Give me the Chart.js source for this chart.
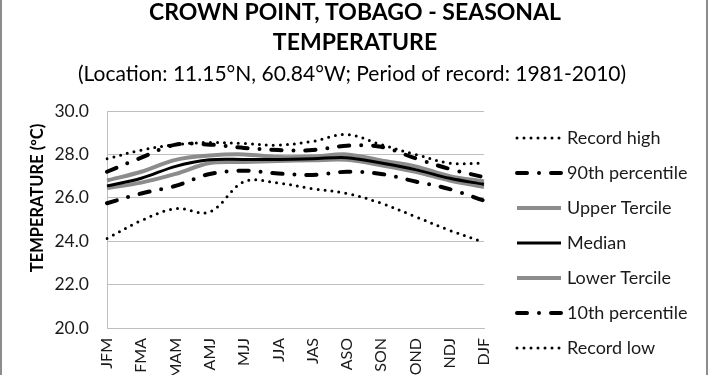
<!DOCTYPE html>
<html>
<head>
<meta charset="utf-8">
<script src="https://cdn.jsdelivr.net/npm/chart.js@4.4.1/dist/chart.umd.min.js"></script>
<style>
  html, body { margin: 0; padding: 0; background: #fff; }
  #wrap { width: 710px; height: 375px; position: relative; }
</style>
</head>
<body>
<div id="wrap"><canvas id="js-chart-seasonal-temp"></canvas></div>
<script>
// Seasons (3-month running periods)
const seasons = ['JFM', 'FMA', 'MAM', 'AMJ', 'MJJ', 'JJA', 'JAS', 'ASO', 'SON', 'OND', 'NDJ', 'DJF'];

// Temperatures (°C)
const recordHigh   = [27.8, 28.2, 28.45, 28.55, 28.5, 28.43, 28.6, 28.92, 28.45, 28.0, 27.6, 27.6];
const pct90        = [27.2, 27.85, 28.45, 28.45, 28.3, 28.2, 28.2, 28.4, 28.35, 27.82, 27.33, 26.95];
const upperTercile = [26.8, 27.2, 27.75, 27.95, 28.0, 27.88, 27.9, 28.0, 27.72, 27.45, 27.0, 26.75];
const median       = [26.55, 26.9, 27.45, 27.75, 27.77, 27.77, 27.8, 27.85, 27.6, 27.3, 26.9, 26.62];
const lowerTercile = [26.45, 26.7, 27.1, 27.6, 27.65, 27.7, 27.73, 27.75, 27.5, 27.2, 26.8, 26.5];
const pct10        = [25.75, 26.2, 26.55, 27.1, 27.25, 27.12, 27.05, 27.2, 27.1, 26.75, 26.4, 25.87];
const recordLow    = [24.13, 24.95, 25.5, 25.35, 26.75, 26.68, 26.42, 26.2, 25.75, 25.13, 24.5, 23.95];

// Y axis
const yMin = 20, yMax = 30, yStep = 2;

const FONT = 'Lato, "Open Sans", sans-serif';
const dotted = [0, 7];
const dashDot = [10, 12, 0, 12];

// Background, frame, titles, y axis title and legend
const decorPlugin = {
  id: 'decor',
  beforeDraw(chart) {
    const ctx = chart.ctx;
    ctx.save();
    ctx.fillStyle = '#fff';
    ctx.fillRect(0, 0, chart.width, chart.height);
    ctx.restore();
  },
  afterDraw(chart) {
    const ctx = chart.ctx;
    ctx.save();

    // outer frame (left / right edges)
    ctx.fillStyle = '#8c8c8c';
    ctx.fillRect(0, 0, 2, chart.height);
    ctx.fillRect(706, 0, 2, chart.height);

    // titles
    ctx.fillStyle = '#000';
    ctx.textAlign = 'center';
    ctx.textBaseline = 'middle';
    ctx.font = 'bold 23px ' + FONT;
    ctx.fillText('CROWN POINT, TOBAGO - SEASONAL', 355, 13);
    ctx.fillText('TEMPERATURE', 355, 43);
    ctx.font = '21px ' + FONT;
    ctx.fillText('(Location: 11.15°N, 60.84°W; Period of record: 1981-2010)', 352, 74);

    // y axis title
    ctx.save();
    ctx.translate(38, 198);
    ctx.rotate(-Math.PI / 2);
    ctx.font = 'bold 16.5px ' + FONT;
    ctx.fillText('TEMPERATURE (ºC)', 0, 0);
    ctx.restore();

    // legend
    chart.data.datasets.forEach((ds, i) => {
      const y = 138 + 35 * i;
      ctx.save();
      ctx.strokeStyle = ds.borderColor;
      ctx.lineWidth = ds.borderWidth;
      ctx.lineCap = ds.borderCapStyle || 'butt';
      ctx.setLineDash(ds.borderDash || []);
      ctx.beginPath();
      ctx.moveTo(517, y);
      ctx.lineTo(561, y);
      ctx.stroke();
      ctx.restore();
      ctx.fillStyle = '#1a1a1a';
      ctx.textAlign = 'left';
      ctx.font = '18px ' + FONT;
      ctx.fillText(ds.label, 567, y);
    });
    ctx.restore();
  }
};

let chartCon = document.getElementById('js-chart-seasonal-temp');

let chartData = {
  labels: seasons,
  datasets: [
    { label: 'Record high', data: recordHigh, borderColor: '#000', borderWidth: 3, borderDash: dotted, borderCapStyle: 'round', order: 2 },
    { label: '90th percentile', data: pct90, borderColor: '#000', borderWidth: 4, borderDash: dashDot, borderCapStyle: 'round', order: 2 },
    { label: 'Upper Tercile', data: upperTercile, borderColor: '#8c8c8c', borderWidth: 4, order: 1 },
    { label: 'Median', data: median, borderColor: '#000', borderWidth: 3, order: 0 },
    { label: 'Lower Tercile', data: lowerTercile, borderColor: '#8c8c8c', borderWidth: 4, order: 1 },
    { label: '10th percentile', data: pct10, borderColor: '#000', borderWidth: 4, borderDash: dashDot, borderCapStyle: 'round', order: 2 },
    { label: 'Record low', data: recordLow, borderColor: '#000', borderWidth: 3, borderDash: dotted, borderCapStyle: 'round', order: 2 }
  ]
};

new Chart(chartCon, {
  type: 'line',
  data: chartData,
  plugins: [decorPlugin],
  options: {
    responsive: true,
    maintainAspectRatio: false,
    animation: false,
    devicePixelRatio: 1,
    tension: .35,
    elements: { point: { radius: 0, hoverRadius: 0 } },
    layout: { padding: { top: 111, right: 226, bottom: 0, left: 0 } },
    scales: {
      x: {
        grid: { display: false, drawTicks: false },
        border: { display: true, color: '#bfbfbf' },
        ticks: {
          color: '#1a1a1a',
          font: { family: FONT, size: 16 },
          minRotation: 90,
          maxRotation: 90,
          padding: 10,
          autoSkip: false
        },
        afterFit(scale) { scale.height = 47; }
      },
      y: {
        min: yMin,
        max: yMax,
        grid: { color: '#bfbfbf', drawTicks: false },
        border: { display: true, color: '#bfbfbf' },
        ticks: {
          stepSize: yStep,
          color: '#1a1a1a',
          font: { family: FONT, size: 17.5 },
          padding: 18,
          callback: v => v.toFixed(1)
        },
        afterFit(scale) { scale.width = 107; }
      }
    },
    plugins: {
      legend: { display: false },
      tooltip: { enabled: false }
    }
  }
});
</script>
</body>
</html>
